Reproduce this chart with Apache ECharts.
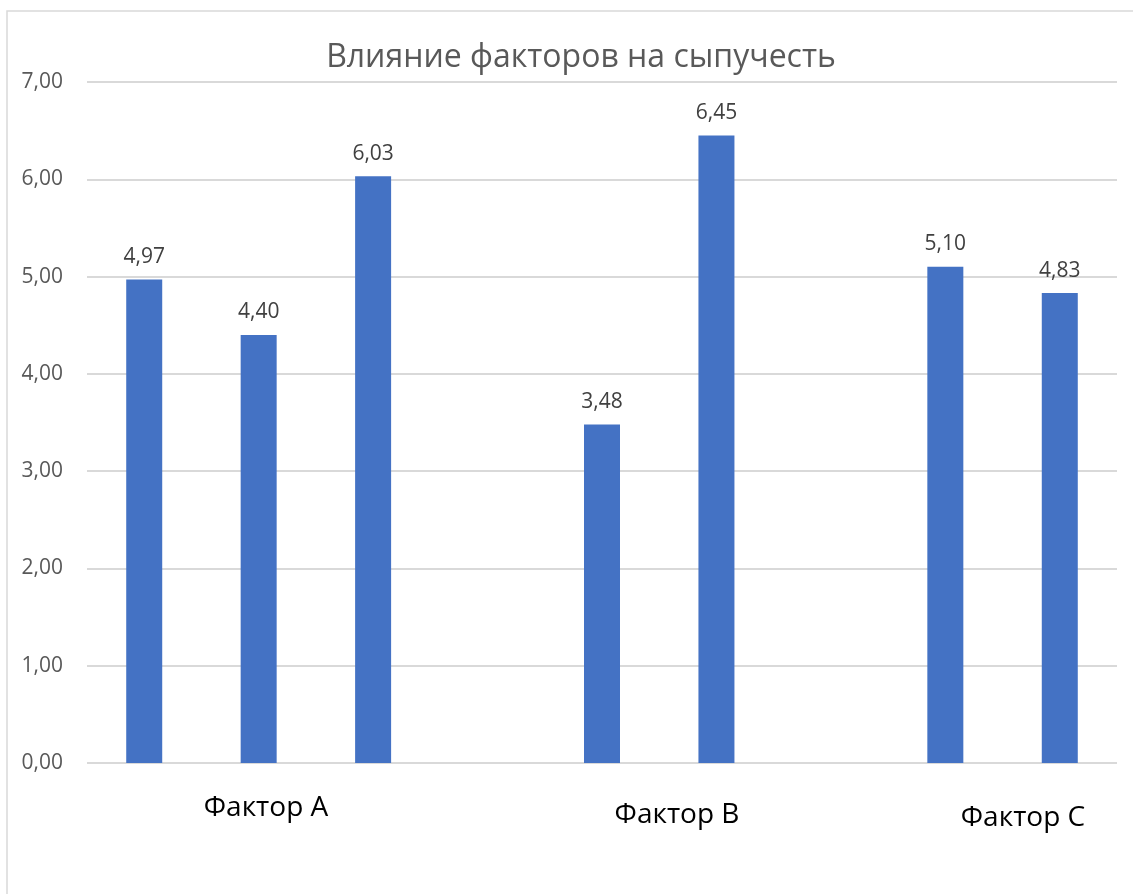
<!DOCTYPE html>
<html>
<head>
<meta charset="utf-8">
<script src="https://cdn.jsdelivr.net/npm/echarts@6/dist/echarts.min.js"></script>
<style>
  html, body { margin: 0; padding: 0; background: #ffffff; }
  #chart { width: 1133px; height: 894px; }
</style>
</head>
<body>
<div id="chart"></div>
<script>
// Bar slots along the x axis; empty slots separate the factor groups
const slots = ['A1', 'A2', 'A3', 'gap1', 'B1', 'B2', 'gap2', 'C1', 'C2'];
// Flowability values per slot (null = empty slot)
const values = [4.97, 4.40, 6.03, null, 3.48, 6.45, null, 5.10, 4.83];
// Group captions below the axis
const groupLabels = ['Фактор A', 'Фактор B', 'Фактор C'];
const titleText = 'Влияние факторов на сыпучесть';

const fmt = v => Number(v).toFixed(2).replace('.', ',');
const font = '"Open Sans", "Noto Sans", sans-serif';

const chart = echarts.init(document.getElementById('chart'), null, { renderer: 'canvas' });
chart.setOption({
  animation: false,
  backgroundColor: '#ffffff',
  title: {
    text: titleText,
    left: 576, top: 37, textAlign: 'center',
    textStyle: { fontFamily: font, fontSize: 32, fontWeight: 'normal', color: '#595959' }
  },
  grid: { left: 87, right: 16, top: 82, bottom: 131, containLabel: false },
  xAxis: {
    type: 'category',
    data: slots,
    axisLine: { show: false },
    axisTick: { show: false },
    axisLabel: { show: false },
    splitLine: { show: false }
  },
  yAxis: {
    type: 'value',
    min: 0, max: 7, interval: 1,
    axisLine: { show: false },
    axisTick: { show: false },
    axisLabel: {
      formatter: fmt, margin: 24,
      fontFamily: font, fontSize: 21, color: '#595959'
    },
    splitLine: { lineStyle: { color: '#d9d9d9', width: 2 } }
  },
  series: [{
    type: 'bar',
    data: values,
    barWidth: 36,
    itemStyle: { color: '#4472C4' },
    label: {
      show: true, position: 'top', distance: 12,
      formatter: p => fmt(p.value),
      fontFamily: font, fontSize: 21, color: '#404040'
    }
  }],
  graphic: [
    { type: 'rect', shape: { x: 7, y: 11, width: 1200, height: 1000 },
      style: { fill: 'none', stroke: '#d9d9d9', lineWidth: 1.5 }, silent: true, z: -1 },
    { type: 'text', x: 266, y: 808, style: { text: groupLabels[0], fontFamily: font, fontSize: 28, fill: '#000000', textAlign: 'center', textVerticalAlign: 'middle' } },
    { type: 'text', x: 677, y: 815, style: { text: groupLabels[1], fontFamily: font, fontSize: 28, fill: '#000000', textAlign: 'center', textVerticalAlign: 'middle' } },
    { type: 'text', x: 1023, y: 818, style: { text: groupLabels[2], fontFamily: font, fontSize: 28, fill: '#000000', textAlign: 'center', textVerticalAlign: 'middle' } }
  ]
});
</script>
</body>
</html>
